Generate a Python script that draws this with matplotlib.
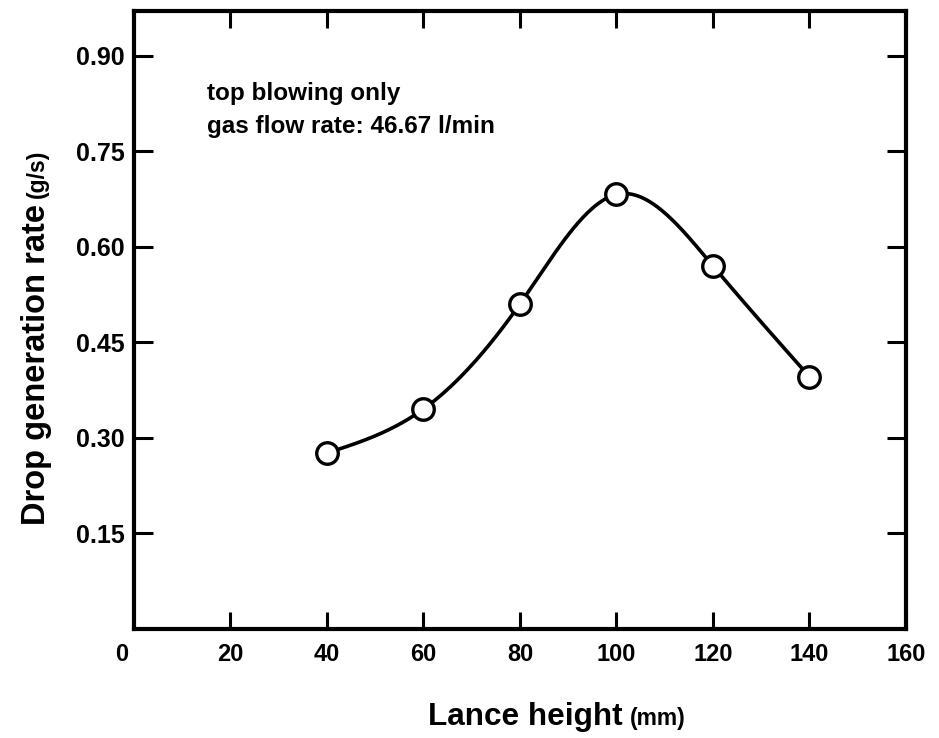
import numpy as np
import matplotlib
matplotlib.use("Agg")
import matplotlib.pyplot as plt
from matplotlib.transforms import offset_copy

# Data
lance_height = [40, 60, 80, 100, 120, 140]
drop_rate = [0.276, 0.345, 0.510, 0.682, 0.570, 0.396]
x_ticks = [20, 40, 60, 80, 100, 120, 140, 160]
y_ticks = [0.15, 0.30, 0.45, 0.60, 0.75, 0.90]
y_tick_labels = ["0.15", "0.30", "0.45", "0.60", "0.75", "0.90"]
note_lines = ["top blowing only", "gas flow rate: 46.67 l/min"]


def natural_spline(x, y, xs):
    x = np.asarray(x, float)
    y = np.asarray(y, float)
    n = len(x)
    h = np.diff(x)
    A = np.zeros((n, n))
    b = np.zeros(n)
    A[0, 0] = 1
    A[-1, -1] = 1
    for i in range(1, n - 1):
        A[i, i - 1] = h[i - 1]
        A[i, i] = 2 * (h[i - 1] + h[i])
        A[i, i + 1] = h[i]
        b[i] = 6 * ((y[i + 1] - y[i]) / h[i] - (y[i] - y[i - 1]) / h[i - 1])
    M = np.linalg.solve(A, b)
    out = np.empty_like(xs)
    for k, xv in enumerate(xs):
        i = min(max(np.searchsorted(x, xv) - 1, 0), n - 2)
        t1 = x[i + 1] - xv
        t0 = xv - x[i]
        out[k] = (M[i] * t1 ** 3 / (6 * h[i]) + M[i + 1] * t0 ** 3 / (6 * h[i])
                  + (y[i] / h[i] - M[i] * h[i] / 6) * t1
                  + (y[i + 1] / h[i] - M[i + 1] * h[i] / 6) * t0)
    return out


plt.rcParams['font.family'] = ['Liberation Sans', 'DejaVu Sans']

fig = plt.figure(figsize=(9.39, 7.38), dpi=100)
ax = fig.add_axes([0.1427, 0.148, 0.822, 0.837])

xs = np.linspace(lance_height[0], lance_height[-1], 400)
ax.plot(xs, natural_spline(lance_height, drop_rate, xs), color='black', lw=2.6, zorder=2)
ax.plot(lance_height, drop_rate, 'o', ms=15.5, mfc='white', mec='black', mew=2.4, zorder=3)

ax.set_xlim(0, 160)
ax.set_ylim(0, 0.97)

for s in ax.spines.values():
    s.set_linewidth(3)

ax.set_xticks(x_ticks)
ax.set_xticklabels([str(v) for v in x_ticks], fontsize=17, fontweight='bold')
ax.set_yticks(y_ticks)
ax.set_yticklabels(y_tick_labels, fontsize=18, fontweight='bold')
ax.tick_params(axis='x', direction='in', length=12, width=2.2, top=True, pad=10)
ax.tick_params(axis='y', direction='in', length=14, width=2.2, right=True, pad=7)

# "0" label offset to the left of the origin
ax.text(0, 0, "0", transform=offset_copy(ax.transData, fig=fig, x=-12, y=-14, units='dots'),
        ha='center', va='top', fontsize=17, fontweight='bold')

# Notes
ax.text(207 / 939, 1 - 100 / 738, note_lines[0], transform=fig.transFigure,
        fontsize=17.5, fontweight='bold', ha='left', va='baseline')
ax.text(207 / 939, 1 - 133 / 738, note_lines[1], transform=fig.transFigure,
        fontsize=17.5, fontweight='bold', ha='left', va='baseline')

# X label
fig.text(428 / 939, 1 - 725 / 738, "Lance height", fontsize=22.7, fontweight='bold',
         ha='left', va='baseline')
fig.text(630 / 939, 1 - 725 / 738, "(mm)", fontsize=16.5, fontweight='bold',
         ha='left', va='baseline')

# Y label
ylab = fig.text(45 / 939, 1 - 525 / 738, "Drop generation rate", fontsize=23.5,
                fontweight='bold', rotation=90, ha='left', va='baseline',
                rotation_mode='anchor')
fig.canvas.draw()
bb = ylab.get_window_extent()
top_px = bb.y1 + 6
fig.text(44 / 939, top_px / fig.bbox.height, "(g/s)", fontsize=16.5, fontweight='bold',
         rotation=90, ha='left', va='baseline', rotation_mode='anchor')

fig.savefig("out.png", dpi=100)
